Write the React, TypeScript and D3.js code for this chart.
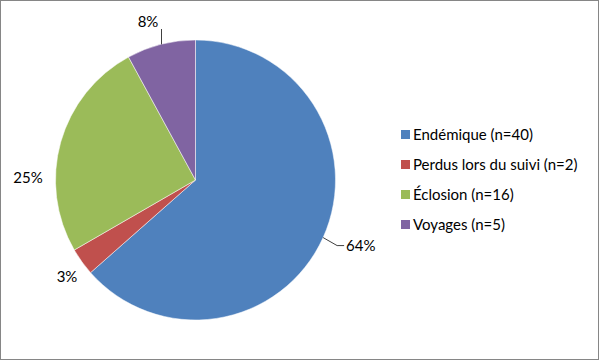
import React from "react";
import * as d3 from "d3";

const categories = ["Endémique (n=40)", "Perdus lors du suivi (n=2)", "Éclosion (n=16)", "Voyages (n=5)"];
const values = [40, 2, 16, 5];
const percentLabels = ["64%", "3%", "25%", "8%"];
const colors = ["#4F81BD", "#C0504D", "#9BBB59", "#8064A2"];

const W = 600, H = 361;
const cx = 195.5, cy = 180, R = 140;
const FONT = "Lato, 'Open Sans', sans-serif";

export default function App() {
  const pie = d3.pie<number>().sort(null).startAngle(0).endAngle(2 * Math.PI)(values);
  const arc = d3.arc<d3.PieArcDatum<number>>().innerRadius(0).outerRadius(R);

  const labelInfo = pie.map((p) => {
    const mid = (p.startAngle + p.endAngle) / 2;
    return { sx: Math.sin(mid), sy: -Math.cos(mid) };
  });

  return (
    <svg width={W} height={H} style={{ position: "fixed", left: 0, top: 0, background: "#fff" }}
      fontFamily={FONT}>
      <rect x={0.5} y={0.5} width={W - 2} height={H - 2} fill="#fff" stroke="#868686" strokeWidth={1} />
      <g transform={`translate(${cx},${cy})`}>
        {pie.map((p, i) => (
          <path key={i} d={arc(p) || ""} fill={colors[i]} stroke="#fff" strokeWidth={0.5} />
        ))}
      </g>
      {(() => {
        const L = labelInfo[0];
        const x0 = cx + L.sx * R, y0 = cy + L.sy * R;
        return (
          <g>
            <polyline points={`${x0},${y0} ${x0 + 14},${y0 + 8} ${x0 + 21},${y0 + 8}`} fill="none" stroke="#000" strokeWidth={0.75} />
            <text x={x0 + 23} y={y0 + 13} fontSize={15}>{percentLabels[0]}</text>
          </g>
        );
      })()}
      <text x={67} y={282} fontSize={15} textAnchor="middle">{percentLabels[1]}</text>
      <text x={28} y={183} fontSize={15} textAnchor="middle">{percentLabels[2]}</text>
      {(() => {
        const L = labelInfo[3];
        const y0 = cy + L.sy * R;
        return (
          <g>
            <line x1={161.5} y1={Math.max(y0, 42)} x2={161.5} y2={29} stroke="#000" strokeWidth={0.75} />
            <text x={148} y={27} fontSize={15} textAnchor="middle">{percentLabels[3]}</text>
          </g>
        );
      })()}
      <g>
        {categories.map((c, i) => (
          <g key={i} transform={`translate(401,${135 + i * 30})`}>
            <rect x={0} y={-5} width={9} height={9} fill={colors[i]} />
            <text x={12} y={5} fontSize={15}>{c}</text>
          </g>
        ))}
      </g>
    </svg>
  );
}
